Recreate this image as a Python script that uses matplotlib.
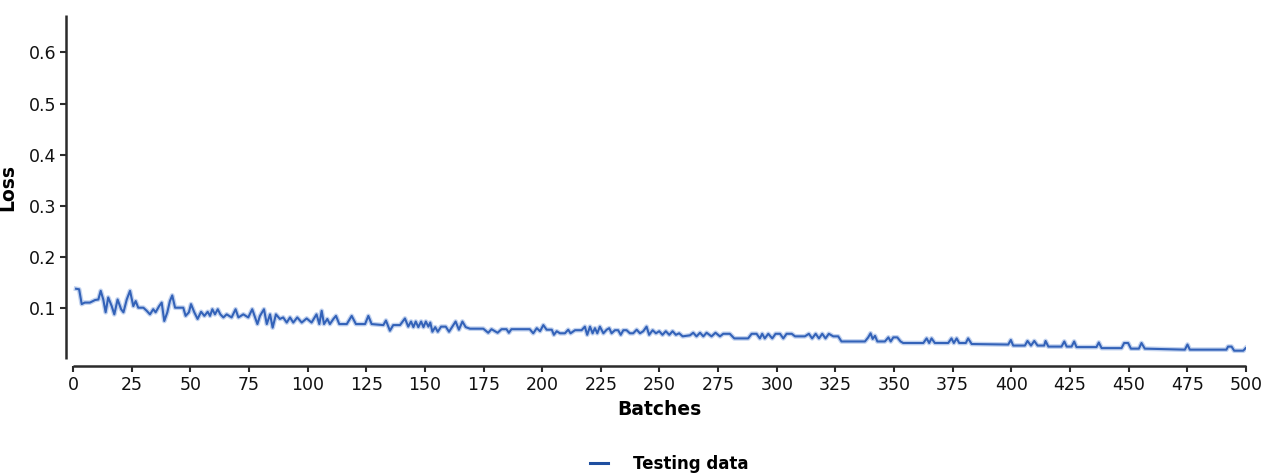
import numpy as np
from matplotlib import pyplot as plt

# Values (batch, loss)
batches = [1.3, 2.6, 3.7, 5, 7.2, 9.4, 10.8, 11.8, 12.9, 13.9, 15, 16.5, 17.6, 19, 20.5, 21.5,
           22.9, 24.3, 25.7, 26.7, 27.8, 30, 31.4, 32.8, 34.2, 35.2, 36.7, 37.8, 38.9, 40.2,
           41.3, 42.3, 43.5, 44.9, 47, 48, 49.4, 50.3, 51.7, 53.1, 54.6, 56, 57.4, 58.4, 59.4,
           60.5, 61.7, 62.8, 64.1, 65.5, 67.6, 69.3, 70.5, 72.6, 74.7, 76.4, 78.6, 79.7, 81.4,
           82.6, 84, 85.1, 86.5, 88.2, 89.6, 91.1, 92.5, 93.9, 95.6, 97.5, 99.6, 101.7, 103.8,
           105, 106, 107, 108.4, 109.5, 111, 112.1, 113.5, 116.7, 118.8, 120.6, 124.5, 125.9,
           127.3, 132.3, 133.4, 135.1, 136.5, 139.4, 141.5, 142.9, 144.1, 145.1, 146.1, 147.2,
           148.4, 149.4, 150.4, 151.5, 152.3, 153.2, 154.4, 155.5, 156.9, 158.9, 160.3, 161.7,
           163.1, 164.5, 166, 167.4, 169.2, 172.8, 174.9, 177, 178.4, 181, 182.7, 184.8, 185.8,
           186.9, 194.7, 196.2, 197.7, 199.1, 200.5, 201.9, 204.1, 205, 206.2, 207.6, 209.7,
           211.1, 212.1, 214, 216.8, 218.2, 219.2, 220.4, 221.5, 222.5, 223.5, 224.6, 226.1,
           227.5, 228.6, 229.6, 231, 232.4, 233.5, 234.6, 236, 237.4, 238.8, 240.3, 241.7,
           243.1, 244.5, 245.6, 247.1, 248.5, 249.9, 251.3, 252.7, 254.2, 255.6, 257, 258.4,
           259.9, 263, 264.4, 265.8, 267.3, 268.7, 270.1, 272.2, 273.9, 275.8, 277.2, 280,
           281.9, 287.8, 289.3, 291.4, 292.8, 293.8, 294.9, 296.4, 298.1, 299.5, 301.4, 302.8,
           304.2, 306.4, 307.8, 312, 313.7, 315.1, 316.6, 318, 319.4, 320.8, 322.2, 324.1,
           326.2, 327.6, 337.6, 339, 340, 340.9, 341.9, 342.9, 346.1, 347.6, 348.6, 349.7,
           351.4, 352.8, 353.9, 362.5, 363.9, 365, 366, 367.4, 373.1, 374.5, 375.5, 376.7,
           377.8, 380.6, 381.6, 383.1, 398.7, 399.8, 400.8, 405.8, 406.9, 408.4, 409.8, 411.2,
           414, 414.6, 415.8, 421.4, 422.6, 423.6, 425.7, 426.8, 427.8, 436.3, 437.3, 438.5,
           447, 448.1, 449.8, 451, 454.4, 455.5, 456.9, 474, 475.1, 476.1, 491.7, 492.4, 493.9,
           495, 498.9, 499.9]
loss = [0.138, 0.137, 0.108, 0.111, 0.111, 0.116, 0.117, 0.134, 0.117, 0.092, 0.121, 0.104,
        0.088, 0.117, 0.098, 0.092, 0.117, 0.134, 0.104, 0.114, 0.101, 0.101, 0.095, 0.088,
        0.098, 0.092, 0.104, 0.111, 0.075, 0.092, 0.114, 0.125, 0.101, 0.101, 0.101, 0.085,
        0.092, 0.108, 0.092, 0.079, 0.093, 0.085, 0.093, 0.085, 0.098, 0.088, 0.098, 0.088,
        0.082, 0.088, 0.082, 0.098, 0.082, 0.088, 0.082, 0.098, 0.069, 0.085, 0.098, 0.069,
        0.088, 0.062, 0.088, 0.079, 0.082, 0.072, 0.082, 0.072, 0.082, 0.072, 0.080, 0.072,
        0.088, 0.069, 0.095, 0.069, 0.079, 0.069, 0.079, 0.085, 0.069, 0.069, 0.085, 0.069,
        0.069, 0.085, 0.069, 0.067, 0.076, 0.056, 0.067, 0.067, 0.080, 0.064, 0.074, 0.063,
        0.074, 0.063, 0.074, 0.063, 0.074, 0.064, 0.072, 0.054, 0.063, 0.054, 0.064, 0.064,
        0.054, 0.064, 0.074, 0.058, 0.074, 0.063, 0.060, 0.060, 0.060, 0.052, 0.059, 0.052,
        0.059, 0.059, 0.052, 0.059, 0.059, 0.051, 0.061, 0.055, 0.067, 0.058, 0.058, 0.048,
        0.055, 0.051, 0.051, 0.058, 0.051, 0.057, 0.057, 0.064, 0.048, 0.064, 0.051, 0.061,
        0.051, 0.064, 0.051, 0.058, 0.061, 0.051, 0.057, 0.057, 0.048, 0.057, 0.057, 0.051,
        0.051, 0.058, 0.051, 0.055, 0.064, 0.048, 0.057, 0.051, 0.055, 0.048, 0.055, 0.048,
        0.055, 0.048, 0.051, 0.045, 0.047, 0.052, 0.045, 0.052, 0.045, 0.052, 0.045, 0.052,
        0.045, 0.050, 0.050, 0.041, 0.041, 0.050, 0.050, 0.041, 0.050, 0.041, 0.050, 0.041,
        0.050, 0.050, 0.041, 0.050, 0.050, 0.045, 0.045, 0.050, 0.041, 0.050, 0.041, 0.050,
        0.041, 0.050, 0.045, 0.045, 0.035, 0.035, 0.043, 0.051, 0.040, 0.046, 0.035, 0.035,
        0.043, 0.035, 0.043, 0.043, 0.035, 0.032, 0.032, 0.041, 0.032, 0.041, 0.032, 0.032,
        0.041, 0.032, 0.041, 0.032, 0.032, 0.041, 0.030, 0.029, 0.038, 0.027, 0.027, 0.036,
        0.027, 0.036, 0.027, 0.027, 0.036, 0.025, 0.025, 0.035, 0.025, 0.025, 0.035, 0.024,
        0.024, 0.033, 0.022, 0.022, 0.032, 0.032, 0.021, 0.021, 0.032, 0.021, 0.019, 0.029,
        0.019, 0.019, 0.025, 0.025, 0.017, 0.017, 0.022]

x_ticks = list(range(0, 501, 25))
y_ticks = [0.1, 0.2, 0.3, 0.4, 0.5, 0.6]

fig = plt.figure(figsize=(12.7, 4.76), dpi=100)
ax = fig.add_axes([0.0575, 0.245, 0.9235, 0.7235])

# soft halo under the line, then the line itself
ax.plot(batches, loss, color='#c3d3ef', linewidth=3.4, solid_joinstyle='round', zorder=2)
ax.plot(batches, loss, color='#3362b8', linewidth=1.5, solid_joinstyle='round', zorder=3)

ax.set_xlim(0, 500)
ax.set_ylim(0, 0.673)
ax.set_xticks(x_ticks)
ax.set_yticks(y_ticks)
ax.set_yticklabels([str(v) for v in y_ticks])

for side in ['top', 'right']:
    ax.spines[side].set_visible(False)
ax.spines['left'].set_position(('outward', 5))
ax.spines['bottom'].set_position(('outward', 5))
for side in ['left', 'bottom']:
    ax.spines[side].set_linewidth(1.8)
    ax.spines[side].set_color('#2b2b2b')
    ax.spines[side].set_capstyle('butt')
ax.spines['bottom'].set_bounds(0, 500)
ax.spines['left'].set_bounds(0, 0.673)

ax.tick_params(axis='both', direction='out', length=4, width=1.5, color='#2b2b2b',
               labelsize=12.5, labelcolor='#111111', pad=3)

ax.set_xlabel('Batches', fontsize=13.5, fontweight='bold', labelpad=4)
ax.set_ylabel('Loss', fontsize=13.5, fontweight='bold', labelpad=8)

handle, = plt.plot([], [], color='#1f4fa0', linewidth=2.2)
fig.legend([handle], ['Testing data'], loc='lower center', bbox_to_anchor=(0.527, -0.025),
           frameon=False, prop={'size': 12, 'weight': 'bold'}, handlelength=1.1,
           handletextpad=1.5)

plt.savefig('out.png', dpi=100)
